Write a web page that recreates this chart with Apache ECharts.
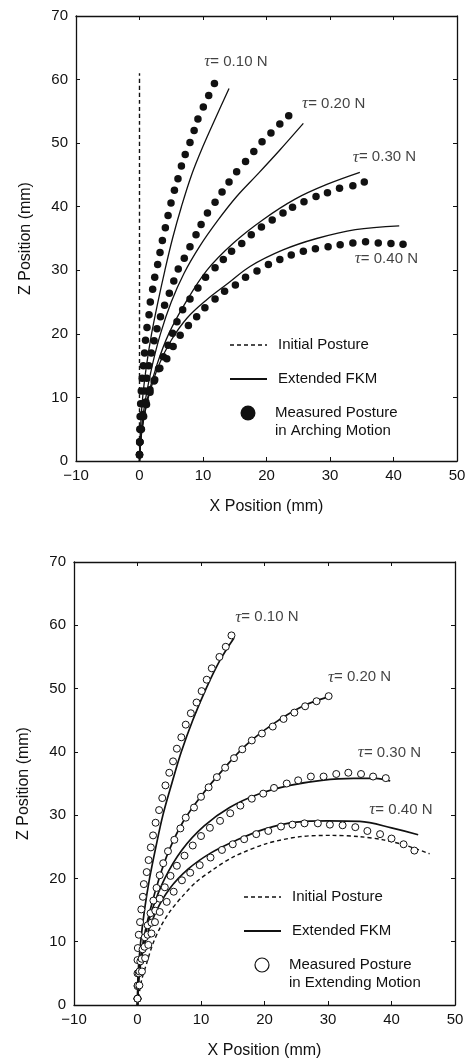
<!DOCTYPE html>
<html>
<head>
<meta charset="utf-8">
<script src="https://cdn.jsdelivr.net/npm/echarts@6/dist/echarts.min.js"></script>
<style>
  html, body { margin: 0; padding: 0; background: #fff; }
  #chart { width: 471px; height: 1060px; }
</style>
</head>
<body>
<div id="chart"></div>
<script>
// ---- Arching motion (upper panel) ----
const archInitX = [0, 0];
const archInitZ = [0, 61];

const archMeas010X = [0, 0.02, 0.05, 0.1, 0.18, 0.28, 0.42, 0.6, 0.8, 0.95, 1.18, 1.5, 1.7, 2.07, 2.4, 2.86, 3.23, 3.6, 4.07, 4.5, 4.96, 5.5, 6.06, 6.6, 7.2, 7.95, 8.6, 9.2, 10.05, 10.9, 11.8];
const archMeas010Z = [1, 3, 5, 7, 9, 11, 13, 15, 17, 19, 21, 23, 25, 27, 28.9, 30.9, 32.8, 34.7, 36.7, 38.6, 40.6, 42.6, 44.4, 46.4, 48.2, 50.1, 52.0, 53.8, 55.7, 57.5, 59.4];
const archMeas020X = [0, 0.05, 0.15, 0.3, 0.55, 0.85, 1.15, 1.45, 1.85, 2.3, 2.75, 3.3, 3.95, 4.7, 5.4, 6.1, 7.05, 7.95, 8.9, 9.7, 10.7, 11.9, 13.0, 14.1, 15.3, 16.7, 18.0, 19.3, 20.7, 22.1, 23.5];
const archMeas020Z = [1, 3, 5, 7, 9, 11, 13, 15, 17, 18.9, 20.8, 22.7, 24.5, 26.4, 28.3, 30.2, 31.9, 33.7, 35.6, 37.2, 39.0, 40.7, 42.3, 43.9, 45.5, 47.1, 48.7, 50.2, 51.6, 53.0, 54.3];
const archMeas030X = [0, 0.05, 0.3, 0.65, 1.1, 1.65, 2.3, 3.0, 3.75, 4.5, 5.2, 5.9, 6.8, 7.95, 9.2, 10.4, 11.9, 13.2, 14.5, 16.1, 17.6, 19.2, 20.9, 22.6, 24.1, 25.9, 27.8, 29.6, 31.5, 33.6, 35.4];
const archMeas030Z = [1, 3, 5, 7, 8.9, 10.8, 12.6, 14.5, 16.4, 18.2, 20.1, 21.9, 23.8, 25.5, 27.2, 28.9, 30.4, 31.7, 33.0, 34.2, 35.6, 36.8, 37.9, 39.0, 39.9, 40.8, 41.6, 42.2, 42.9, 43.3, 43.9];
const archMeas040X = [0, 0.05, 0.2, 0.5, 1.0, 1.65, 2.4, 3.2, 4.3, 5.3, 6.4, 7.7, 9.0, 10.3, 11.9, 13.4, 15.1, 16.7, 18.5, 20.3, 22.1, 23.9, 25.8, 27.7, 29.7, 31.6, 33.6, 35.6, 37.6, 39.6, 41.5];
const archMeas040Z = [1, 3, 5, 7.3, 9.3, 11.2, 12.8, 14.6, 16.1, 18.0, 19.8, 21.3, 22.7, 24.1, 25.5, 26.7, 27.7, 28.9, 29.9, 30.9, 31.7, 32.4, 33.0, 33.4, 33.7, 34.0, 34.3, 34.5, 34.3, 34.2, 34.1];

const archFkm010X = [0, 0.15, 0.5, 1.1, 1.9, 2.9, 4.0, 5.2, 6.6, 8.2, 10.0, 12.0, 14.1];
const archFkm010Z = [0, 5, 10, 15, 20, 25, 30, 35, 40, 45, 49.5, 54, 58.6];
const archFkm020X = [0, 0.3, 1.0, 2.0, 3.3, 5.0, 7.0, 9.5, 12.3, 15.3, 18.5, 22.0, 25.8];
const archFkm020Z = [0, 5, 10, 15, 20, 25, 29.5, 33.8, 37.8, 41.6, 45, 48.8, 53.1];
const archFkm030X = [0, 0.4, 1.3, 2.7, 4.6, 7.3, 10.6, 14.8, 19.5, 24.5, 29.5, 34.7];
const archFkm030Z = [0, 5, 10, 15, 20, 25, 30, 34.3, 38, 41.2, 43.5, 45.4];
const archFkm040X = [0, 0.4, 1.4, 3.0, 5.0, 7.5, 10.5, 14, 17.4, 22.6, 27.9, 34, 40.9];
const archFkm040Z = [0, 5, 10, 15, 19, 22.5, 25.3, 28, 30.6, 33.2, 35.0, 36.4, 37.0];

// ---- Extending motion (lower panel) ----
const extInitX = [0, 0.6, 1.45, 2.4, 3.6, 5.2, 7.1, 9.2, 11.9, 15.1, 20.3, 25.6, 30.5, 35, 38.7, 42, 46.0];
const extInitZ = [0, 3.7, 6.6, 9.6, 12.3, 14.9, 17.2, 19.4, 21.4, 23.4, 25.5, 26.6, 26.8, 26.6, 26.1, 25.3, 23.9];

const extMeas010X = [0, 0, 0, 0, 0.05, 0.2, 0.4, 0.6, 0.85, 1.0, 1.45, 1.75, 2.1, 2.45, 2.85, 3.4, 3.9, 4.4, 5.0, 5.6, 6.2, 6.9, 7.6, 8.4, 9.3, 10.1, 10.9, 11.7, 12.9, 13.9, 14.8];
const extMeas010Z = [1, 3, 5, 7.1, 9, 11.1, 13.1, 15.1, 17.1, 19.1, 21, 22.9, 24.9, 26.8, 28.8, 30.8, 32.7, 34.7, 36.7, 38.5, 40.5, 42.3, 44.3, 46.1, 47.8, 49.6, 51.4, 53.2, 55.0, 56.6, 58.4];
const extMeas020X = [0, 0.05, 0.2, 0.45, 0.8, 1.15, 1.6, 2.05, 2.5, 3.0, 3.5, 4.05, 4.8, 5.8, 6.75, 7.6, 8.9, 10.0, 11.2, 12.5, 13.8, 15.2, 16.5, 18.0, 19.6, 21.3, 23.0, 24.7, 26.4, 28.2, 30.1];
const extMeas020Z = [1, 3, 5, 6.9, 8.8, 10.7, 12.6, 14.5, 16.5, 18.5, 20.5, 22.4, 24.3, 26.1, 27.9, 29.6, 31.2, 32.9, 34.4, 36.0, 37.5, 39.0, 40.4, 41.8, 42.9, 44.0, 45.2, 46.2, 47.2, 48.0, 48.8];
const extMeas030X = [0, 0.05, 0.3, 0.65, 1.1, 1.6, 2.2, 2.8, 3.5, 4.3, 5.2, 6.2, 7.4, 8.7, 10.0, 11.4, 13.0, 14.6, 16.2, 18.0, 19.8, 21.5, 23.5, 25.3, 27.3, 29.3, 31.3, 33.2, 35.2, 37.1, 39.1];
const extMeas030Z = [1, 3.1, 5.3, 7.3, 9.2, 11.1, 13.0, 14.9, 16.8, 18.6, 20.4, 22.0, 23.6, 25.2, 26.7, 28.0, 29.1, 30.3, 31.5, 32.6, 33.4, 34.3, 35.0, 35.5, 36.1, 36.1, 36.5, 36.7, 36.5, 36.1, 35.85];
const extMeas040X = [0, 0.3, 0.7, 1.2, 1.7, 2.2, 2.75, 3.5, 4.6, 5.7, 7.0, 8.3, 9.8, 11.5, 13.3, 15.0, 16.8, 18.7, 20.6, 22.6, 24.4, 26.3, 28.4, 30.3, 32.3, 34.3, 36.2, 38.2, 40.0, 41.9, 43.6];
const extMeas040Z = [1, 3.1, 5.3, 7.4, 9.5, 11.3, 13.1, 14.7, 16.3, 17.9, 19.7, 20.9, 22.1, 23.3, 24.5, 25.4, 26.2, 27.0, 27.5, 28.2, 28.5, 28.7, 28.7, 28.5, 28.4, 28.1, 27.5, 27.0, 26.3, 25.4, 24.4];

const extFkm010X = [0, 0.1, 0.5, 1.1, 1.9, 2.9, 4.0, 5.4, 6.9, 8.7, 10.8, 13.0, 15.2];
const extFkm010Z = [0, 5, 10, 15, 20, 25, 30, 35, 40, 45, 50, 54.5, 58.0];
const extFkm020X = [0, 0.2, 0.9, 2.0, 3.4, 5.0, 7.2, 10.0, 13.3, 17.0, 21.5, 26, 29.8];
const extFkm020Z = [0, 5, 10, 15, 20, 24.5, 29, 33, 37, 41, 44.5, 47.2, 48.6];
const extFkm030X = [0, 0.25, 1.0, 2.3, 4.3, 7.0, 10.5, 14.5, 19, 24, 29, 34, 37.5, 39.8];
const extFkm030Z = [0, 5, 10, 15, 20, 24.5, 28.3, 31.2, 33.3, 34.7, 35.5, 35.8, 35.8, 35.4];
const extFkm040X = [0, 0.3, 1.2, 2.8, 5.0, 8.0, 11.5, 15.5, 20, 25, 30, 35, 40, 44.2];
const extFkm040Z = [0, 5, 10, 14.5, 18.3, 21.5, 24, 26, 27.8, 28.9, 29.1, 29.0, 28.0, 26.9];

// Force labels and their anchor points (x, z in mm)
const forceLabels = ['0.10', '0.20', '0.30', '0.40'];
const archLabelX = [10.2, 25.6, 33.6, 33.9];
const archLabelZ = [62.8, 56.2, 47.8, 31.8];
const extLabelX = [15.4, 30.0, 34.7, 36.5];
const extLabelZ = [61.3, 51.8, 39.9, 30.9];

// Axis ticks
const xTicks = { min: -10, max: 50, step: 10 };
const zTicks = { min: 0, max: 70, step: 10 };

const INK = '#111111';
const SANS = '"Liberation Sans", Arial, sans-serif';
const SERIF = '"Liberation Serif", "Times New Roman", serif';

const zip = (xs, zs) => xs.map((x, i) => [x, zs[i]]);

function makeAxes(gridIndex, isX) {
  const r = isX ? xTicks : zTicks;
  const base = {
    type: 'value', gridIndex, min: r.min, max: r.max, interval: r.step,
    splitLine: { show: false },
    axisLine: { show: true, onZero: false, lineStyle: { color: INK, width: 1.3 } },
    axisTick: { show: true, inside: true, length: 4, lineStyle: { color: INK, width: 1 } }
  };
  const main = Object.assign({}, base, {
    position: isX ? 'bottom' : 'left',
    axisLabel: {
      show: true, color: INK, fontFamily: SANS, fontSize: 15, margin: isX ? 7 : 8,
      formatter: v => String(v).replace('-', '\u2212')
    },
    name: isX ? 'X Position (mm)' : 'Z Position (mm)',
    nameLocation: 'middle',
    nameGap: isX ? 38 : 42,
    nameTextStyle: { color: INK, fontFamily: SANS, fontSize: 16 }
  });
  const mirror = Object.assign({}, base, {
    position: isX ? 'top' : 'right',
    axisLabel: { show: false }
  });
  return [main, mirror];
}

function panelSeries(gridIndex, init, fkm, meas, labX, labZ, hollow) {
  const xi = gridIndex * 2, yi = gridIndex * 2;
  const out = [];
  out.push({
    type: 'line', xAxisIndex: xi, yAxisIndex: yi, data: init, symbol: 'none', smooth: 0.3,
    lineStyle: { color: INK, width: 1.4, type: [4, 3] }, z: 2, silent: true
  });
  fkm.forEach(d => out.push({
    type: 'line', xAxisIndex: xi, yAxisIndex: yi, data: d, symbol: 'none', smooth: 0.35,
    lineStyle: { color: INK, width: hollow ? 1.7 : 1.3 }, z: 3, silent: true
  }));
  meas.forEach(d => out.push({
    type: 'scatter', xAxisIndex: xi, yAxisIndex: yi, data: d, symbol: 'circle',
    symbolSize: hollow ? 7 : 7.5,
    itemStyle: hollow
      ? { color: '#fff', borderColor: INK, borderWidth: 1, opacity: 1 }
      : { color: INK, borderWidth: 0, opacity: 1 },
    z: 4, silent: true
  }));
  out.push({
    type: 'scatter', xAxisIndex: xi, yAxisIndex: yi, symbolSize: 0, z: 5, silent: true,
    data: forceLabels.map((t, i) => ({ value: [labX[i], labZ[i]], name: t })),
    label: {
      show: true, position: 'right', distance: 0,
      formatter: p => '{t|\u03C4}{n|= ' + p.name + ' N}',
      rich: {
        t: { fontFamily: SERIF, fontStyle: 'italic', fontSize: 17, color: INK },
        n: { fontFamily: SANS, fontSize: 15, color: INK }
      }
    }
  });
  return out;
}

function legendGraphics(ox, oy, markerHollow, secondLine) {
  const txt = (x, y, s) => ({
    type: 'text', x, y, silent: true,
    style: { text: s, fill: INK, font: '15px ' + SANS, verticalAlign: 'middle' }
  });
  return [
    { type: 'line', silent: true, shape: { x1: ox, y1: oy, x2: ox + 37, y2: oy },
      style: { stroke: INK, lineWidth: 1.6, lineDash: [4, 3] } },
    txt(ox + 48, oy, 'Initial Posture'),
    { type: 'line', silent: true, shape: { x1: ox, y1: oy + 34, x2: ox + 37, y2: oy + 34 },
      style: { stroke: INK, lineWidth: 1.8 } },
    txt(ox + 48, oy + 34, 'Extended FKM'),
    { type: 'circle', silent: true,
      shape: { cx: ox + 18, cy: oy + 68, r: markerHollow ? 7 : 7.5 },
      style: markerHollow ? { fill: '#fff', stroke: INK, lineWidth: 1.2 } : { fill: INK } },
    txt(ox + 45, oy + 68, 'Measured Posture'),
    txt(ox + 45, oy + 86, secondLine)
  ];
}

const [ax0, ax0m] = makeAxes(0, true);
const [ay0, ay0m] = makeAxes(0, false);
const [ax1, ax1m] = makeAxes(1, true);
const [ay1, ay1m] = makeAxes(1, false);

const option = {
  animation: false,
  backgroundColor: '#fff',
  grid: [
    { left: 76, top: 16, width: 381, height: 445 },
    { left: 74, top: 562, width: 381, height: 445 }
  ],
  xAxis: [ax0, ax0m, ax1, ax1m],
  yAxis: [ay0, ay0m, ay1, ay1m],
  series: [].concat(
    panelSeries(0, zip(archInitX, archInitZ),
      [zip(archFkm010X, archFkm010Z), zip(archFkm020X, archFkm020Z), zip(archFkm030X, archFkm030Z), zip(archFkm040X, archFkm040Z)],
      [zip(archMeas010X, archMeas010Z), zip(archMeas020X, archMeas020Z), zip(archMeas030X, archMeas030Z), zip(archMeas040X, archMeas040Z)],
      archLabelX, archLabelZ, false),
    panelSeries(1, zip(extInitX, extInitZ),
      [zip(extFkm010X, extFkm010Z), zip(extFkm020X, extFkm020Z), zip(extFkm030X, extFkm030Z), zip(extFkm040X, extFkm040Z)],
      [zip(extMeas010X, extMeas010Z), zip(extMeas020X, extMeas020Z), zip(extMeas030X, extMeas030Z), zip(extMeas040X, extMeas040Z)],
      extLabelX, extLabelZ, true)
  ),
  graphic: [].concat(
    legendGraphics(230, 345, false, 'in Arching Motion'),
    legendGraphics(244, 897, true, 'in Extending Motion')
  )
};

const chart = echarts.init(document.getElementById('chart'), null, { renderer: 'canvas' });
chart.setOption(option);
</script>
</body>
</html>
